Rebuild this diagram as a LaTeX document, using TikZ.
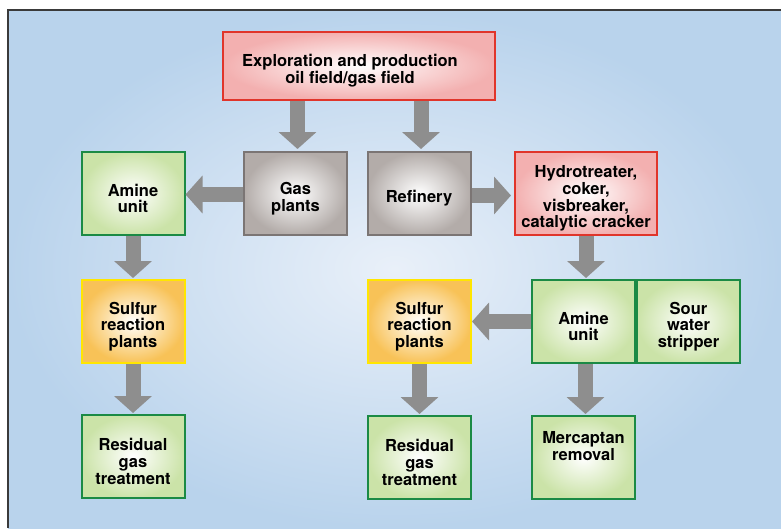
\documentclass[tikz,border=0pt]{standalone}
\usepackage{fontspec}
\setmainfont{TeX Gyre Heros}
\usetikzlibrary{arrows.meta}
\definecolor{bgin}{HTML}{E9F0F9}
\definecolor{bgout}{HTML}{B9D3EC}
\definecolor{frameline}{HTML}{3A3A3A}
\definecolor{redline}{HTML}{E0352B}
\definecolor{redfill}{HTML}{F3B0B0}
\definecolor{grayline}{HTML}{7B7574}
\definecolor{grayfill}{HTML}{B3ACA9}
\definecolor{greenline}{HTML}{1B8A45}
\definecolor{greenfill}{HTML}{CBE3A8}
\definecolor{yelline}{HTML}{FFE600}
\definecolor{yelfill}{HTML}{F8C257}
\definecolor{arrowgray}{HTML}{8E8E8E}
\newcommand\boxtop{\rule{0pt}{22pt}}

\begin{document}
\begin{tikzpicture}[x=1pt,y=-1pt,
    box/.style={draw,line width=2pt,shade,inner color=white,minimum width=103pt,minimum height=83pt,
        align=center,inner sep=2pt,font=\fontsize{16.5}{16.7}\selectfont\bfseries},
    redbox/.style={box,draw=redline,outer color=redfill},
    graybox/.style={box,draw=grayline,outer color=grayfill},
    greenbox/.style={box,draw=greenline,outer color=greenfill},
    yelbox/.style={box,draw=yelline,outer color=yelfill},
    flow/.style={draw=arrowgray,line width=15pt,-{Triangle[width=37pt,length=17pt]}}]
    \useasboundingbox (0,0) rectangle (781,528);
    % background and frame
    \shade[inner color=bgin,outer color=bgout] (8,10) rectangle (781,528);
    \draw[frameline,line width=1.5pt] (8,528) -- (8,10) -- (781,10);

    \node (expl) [redbox,minimum width=272pt,minimum height=68pt] at (359,66) {\boxtop Exploration and production\hspace*{18pt}\\oil field/gas field\hspace*{18pt}};
    \node (gas) [graybox] at (295.5,193.5) {\boxtop Gas\\plants};
    \node (ref) [graybox] at (419,193.5) {\boxtop Refinery};
    \node (hydro) [redbox,minimum width=142pt] at (586,193.5) {\boxtop Hydrotreater,\\coker,\\visbreaker,\\catalytic cracker};
    \node (amineL) [greenbox] at (133,193.5) {\boxtop Amine\\unit};
    \node (sulfL) [yelbox] at (133,321.5) {\boxtop Sulfur\\reaction\\plants};
    \node (resL) [greenbox] at (133,456.5) {\boxtop Residual\\gas\\treatment};
    \node (sulfR) [yelbox] at (419.5,321.5) {\boxtop Sulfur\\reaction\\plants};
    \node (amineR) [greenbox] at (583.5,321.5) {\boxtop Amine\\unit};
    \node (sour) [greenbox,anchor=west] at (amineR.east) {\boxtop Sour\\water\\stripper};
    \node (resR) [greenbox] at (419.5,457.5) {\boxtop Residual\\gas\\treatment};
    \node (merc) [greenbox] at (583.5,457.5) {\boxtop Mercaptan\\removal\\[16pt]};

    \draw[flow,shorten >=2pt] ([xshift=2pt]expl.south -| gas) -- ([xshift=2pt]gas.north);
    \draw[flow,shorten >=2pt] ([xshift=2pt]expl.south -| ref) -- ([xshift=2pt]ref.north);
    \draw[flow] ([yshift=-1pt]gas.west) -- ([yshift=-1pt]amineL.east);
    \draw[flow,shorten >=3pt] ([yshift=-2pt]ref.east) -- ([yshift=-2pt]hydro.west);
    \draw[flow,shorten >=1pt] (hydro.south) -- (hydro.south |- amineR.north);
    \draw[flow,shorten >=1pt] (amineL) -- (sulfL);
    \draw[flow,shorten >=1pt] (sulfL) -- (resL);
    \draw[flow] (amineR.west) -- (sulfR.east);
    \draw[flow,shorten >=1pt] (sulfR) -- (resR);
    \draw[flow,shorten >=1pt] ([xshift=2pt]amineR.south) -- ([xshift=2pt]merc.north);
\end{tikzpicture}
\end{document}
